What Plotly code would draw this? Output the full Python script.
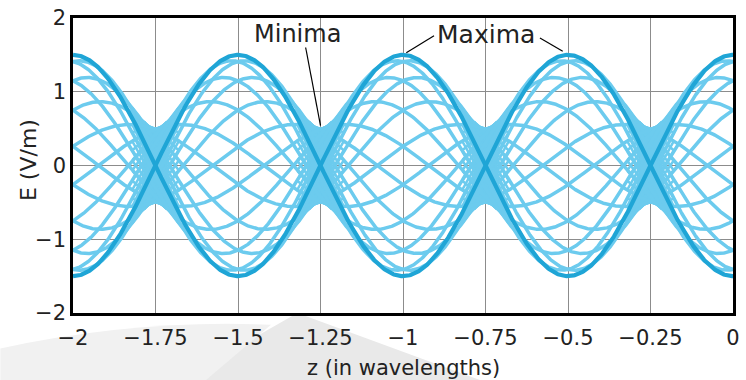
import numpy as np
import plotly.graph_objects as go

# Standing-wave snapshots: forward wave amplitude + reflected wave amplitude
forward_amp = 1.0          # V/m
reflected_amp = 0.5        # V/m
z_start, z_end = -2.0, 0.0  # in wavelengths

# Time snapshots (omega*t, degrees); 0 and 180 are highlighted
snapshot_phases = [0, 20, 40, 60, 80, 100, 120, 140, 160,
                   180, 200, 220, 240, 260, 280, 300, 320, 340]
highlight_phases = [0, 180]

# Extra snapshots drawn only near the field minima, where they pile up
minima_z = [-1.75, -1.25, -0.75, -0.25]
dense_phases = list(range(0, 360, 4))     # close to each minimum
medium_phases = list(range(0, 360, 10))   # a little further out
dense_halfwidth = 0.035
medium_halfwidth = 0.07

x_ticks = [-2, -1.75, -1.5, -1.25, -1, -0.75, -0.5, -0.25, 0]
x_tick_text = ["\u22122", "\u22121.75", "\u22121.5", "\u22121.25", "\u22121",
               "\u22120.75", "\u22120.5", "\u22120.25", "0"]
y_ticks = [-2, -1, 0, 1, 2]
y_tick_text = ["\u22122", "\u22121", "0", "1", "2"]

LIGHT = "#6ccbee"
DARK = "#1fa5d6"

k = 2 * np.pi


def field(z, phase_deg):
    wt = np.deg2rad(phase_deg)
    return forward_amp * np.cos(wt - k * z) + reflected_amp * np.cos(wt + k * z)


def local_bundle(center, halfwidth, phases):
    """Snapshots over a short z window, joined into one trace with gaps."""
    zz = np.linspace(center - halfwidth, center + halfwidth, 41)
    xs, ys = [], []
    for ph in phases:
        xs.extend(zz.tolist() + [None])
        ys.extend(field(zz, ph).tolist() + [None])
    return xs, ys


fig = go.Figure()

for zm in minima_z:
    for hw, phases, w in [(medium_halfwidth, medium_phases, 2.5),
                          (dense_halfwidth, dense_phases, 3.0)]:
        xs, ys = local_bundle(zm, hw, phases)
        fig.add_trace(go.Scatter(x=xs, y=ys, mode="lines",
                                 line=dict(color=LIGHT, width=w),
                                 hoverinfo="skip", showlegend=False))

z = np.linspace(z_start, z_end, 801)
for ph in snapshot_phases:
    if ph in highlight_phases:
        continue
    fig.add_trace(go.Scatter(x=z, y=field(z, ph), mode="lines",
                             line=dict(color=LIGHT, width=3.5),
                             hoverinfo="skip", showlegend=False))

for ph in highlight_phases:
    fig.add_trace(go.Scatter(x=z, y=field(z, ph), mode="lines",
                             line=dict(color=DARK, width=4.2),
                             hoverinfo="skip", showlegend=False))

font_family = "DejaVu Sans"
text_color = "#222222"

fig.update_layout(
    width=746, height=380,
    margin=dict(l=73, r=6, t=17, b=67),
    paper_bgcolor="white", plot_bgcolor="white",
    font=dict(family=font_family, size=21, color=text_color),
    showlegend=False,
    xaxis=dict(range=[z_start, z_end], tickvals=x_ticks, ticktext=x_tick_text,
               showgrid=True, gridcolor="#8c8c8c", gridwidth=1,
               showline=True, linecolor="black", linewidth=2.5, mirror=True,
               ticks="outside", ticklen=4, tickcolor="rgba(0,0,0,0)",
               zeroline=False),
    yaxis=dict(range=[-2, 2], tickvals=y_ticks, ticktext=y_tick_text,
               showgrid=True, gridcolor="#8c8c8c", gridwidth=1,
               showline=True, linecolor="black", linewidth=2.5, mirror=True,
               ticks="", zeroline=False),
)

# Axis titles
fig.add_annotation(text="z (in wavelengths)", xref="paper", yref="paper",
                   x=0.5, y=-0.186, xanchor="center", yanchor="middle",
                   showarrow=False, font=dict(size=21, color=text_color))
fig.add_annotation(text="E (V/m)", xref="paper", yref="paper",
                   x=-0.0675, y=0.52, xanchor="center", yanchor="middle",
                   textangle=-90, showarrow=False,
                   font=dict(size=22, color=text_color))

# Labels for the envelope extremes
fig.add_annotation(x=-1.32, y=1.78, text="Minima", showarrow=False,
                   font=dict(size=24, color=text_color), xanchor="center", yanchor="middle")
fig.add_annotation(x=-0.75, y=1.78, text="Maxima", showarrow=False,
                   font=dict(size=25, color=text_color), xanchor="center", yanchor="middle")

leader_lines = [
    (-1.295, 1.60, -1.25, 0.54),
    (-0.906, 1.76, -0.99, 1.53),
    (-0.585, 1.73, -0.516, 1.55),
]
for x0, y0, x1, y1 in leader_lines:
    fig.add_shape(type="line", x0=x0, y0=y0, x1=x1, y1=y1, xref="x", yref="y",
                  line=dict(color="black", width=1.2))

# faint grey swoosh in the page background beneath the axis
fig.add_shape(type="path", xref="paper", yref="paper", layer="below",
              path="M 0.34,0 L 0.16,-0.23 L 0.62,-0.23 Z",
              fillcolor="#e9e9e9", line=dict(width=0))
fig.add_shape(type="path", xref="paper", yref="paper", layer="below",
              path="M -0.11,-0.12 Q 0.1,-0.02 0.3,-0.04 L 0.2,-0.23 L -0.11,-0.23 Z",
              fillcolor="#f1f1f1", line=dict(width=0))

fig.write_html("out.html")
